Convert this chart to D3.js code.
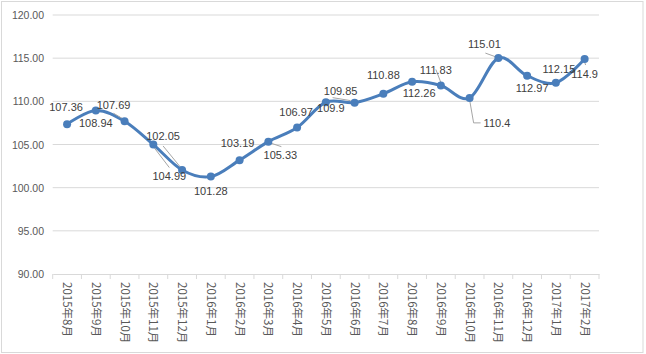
<!DOCTYPE html>
<html>
<head>
<meta charset="utf-8">
<script src="https://cdn.jsdelivr.net/npm/d3@7/dist/d3.min.js"></script>
<style>
  body { margin: 0; background: #fff; }
  text { font-family: "Liberation Sans", Arial, sans-serif; fill: #595959; }
  .xlab { font-family: "Noto Sans CJK SC", sans-serif; }
</style>
</head>
<body>
<div id="chart"></div>
<script>
const months = [
    '2015年8月', '2015年9月', '2015年10月', '2015年11月', '2015年12月',
    '2016年1月', '2016年2月', '2016年3月', '2016年4月', '2016年5月',
    '2016年6月', '2016年7月', '2016年8月', '2016年9月', '2016年10月',
    '2016年11月', '2016年12月', '2017年1月', '2017年2月'
];
const values = [
    107.36, 108.94, 107.69, 104.99, 102.05,
    101.28, 103.19, 105.33, 106.97, 109.9,
    109.85, 110.88, 112.26, 111.83, 110.4,
    115.01, 112.97, 112.15, 114.9
];
const yTicks = [90, 95, 100, 105, 110, 115, 120];

// label placement (dx, dy from the point, anchor) - hand placed like the original
const labelPos = [
    [-1, -13, 'middle'], [0, 17, 'middle'], [-11, -12, 'middle'], [16, 35, 'middle'], [-19, -30, 'middle'],
    [0, 18, 'middle'], [-2, -13, 'middle'], [12, 17, 'middle'], [-1, -11, 'middle'], [5, 10, 'middle'],
    [-14, -8, 'middle'], [0, -15, 'middle'], [7, 15, 'middle'], [-5, -12, 'middle'], [14, 29, 'start'],
    [-14, -10, 'middle'], [5, 16, 'middle'], [3, -10, 'middle'], [0, 19, 'middle']
];
// leader lines: index -> points as offsets from the data point
const leaders = {
    2: [[-11, -8], [-1, -2]],
    3: [[0, 2], [16, 23]],
    4: [[-19, -24], [-1, -2]],
    7: [[1, 1], [13, 5]],
    10: [[-22, -5], [-4, -2]],
    13: [[-5, -16], [0, -3]],
    14: [[0, 2], [4, 25], [11, 25]],
    15: [[-13, -5], [-2, -1]],
    18: [[0, 3], [1, 6]]
};

const width = 646, height = 354;
const margin = { top: 15, right: 47, bottom: 80, left: 52.7 };

const svg = d3.select('#chart').append('svg')
    .attr('width', width).attr('height', height);

svg.append('rect')
    .attr('x', 1.5).attr('y', 1.5)
    .attr('width', 641.5).attr('height', 351)
    .attr('fill', '#fff').attr('stroke', '#d9d9d9');

const x = d3.scaleBand().domain(months)
    .range([margin.left, width - margin.right]);
const y = d3.scaleLinear().domain([90, 120])
    .range([height - margin.bottom, margin.top]);

// gridlines
svg.append('g').selectAll('line').data(yTicks.slice(1)).join('line')
    .attr('x1', margin.left).attr('x2', width - margin.right)
    .attr('y1', d => y(d)).attr('y2', d => y(d))
    .attr('stroke', '#d9d9d9').attr('stroke-width', 1);

// y axis labels
svg.append('g').selectAll('text').data(yTicks).join('text')
    .attr('x', 44).attr('y', d => y(d) + 4)
    .attr('text-anchor', 'end')
    .style('font-size', '10.5px')
    .text(d => d.toFixed(2));

// x axis
const xAxis = svg.append('g')
    .attr('transform', `translate(0,${y(90)})`)
    .call(d3.axisBottom(x).tickSize(0).tickFormat(''));
xAxis.select('.domain').attr('stroke', '#d9d9d9');
const bounds = months.map(m => x(m)).concat([x(months[months.length - 1]) + x.bandwidth()]);
xAxis.selectAll('.sep').data(bounds).join('line')
    .attr('class', 'sep')
    .attr('x1', d => d).attr('x2', d => d)
    .attr('y1', 0).attr('y2', 5)
    .attr('stroke', '#d9d9d9');

svg.append('g').selectAll('text').data(months).join('text')
    .attr('class', 'xlab')
    .attr('transform', d => `translate(${x(d) + x.bandwidth() / 2},282) rotate(90)`)
    .attr('dy', '0.35em')
    .style('font-size', '11.5px')
    .text(d => d);

const cx = i => x(months[i]) + x.bandwidth() / 2;

// line
const line = d3.line()
    .x((d, i) => cx(i))
    .y(d => y(d))
    .curve(d3.curveCardinal.tension(0));

svg.append('path')
    .datum(values)
    .attr('d', line)
    .attr('fill', 'none')
    .attr('stroke', '#4a7ebb')
    .attr('stroke-width', 3)
    .attr('stroke-linecap', 'round');

// leader lines
Object.keys(leaders).forEach(k => {
    const i = +k;
    const pts = leaders[k].map(p => [cx(i) + p[0], y(values[i]) + p[1]]);
    svg.append('path')
        .attr('d', d3.line()(pts))
        .attr('fill', 'none')
        .attr('stroke', '#a6a6a6')
        .attr('stroke-width', 1);
});

svg.append('g').selectAll('circle').data(values).join('circle')
    .attr('cx', (d, i) => cx(i))
    .attr('cy', d => y(d))
    .attr('r', 4)
    .attr('fill', '#4a7ebb');

svg.append('g').selectAll('text').data(values).join('text')
    .attr('x', (d, i) => cx(i) + labelPos[i][0])
    .attr('y', (d, i) => y(d) + labelPos[i][1])
    .attr('text-anchor', (d, i) => labelPos[i][2])
    .style('font-size', '11px')
    .style('fill', '#404040')
    .text(d => d);
</script>
</body>
</html>
